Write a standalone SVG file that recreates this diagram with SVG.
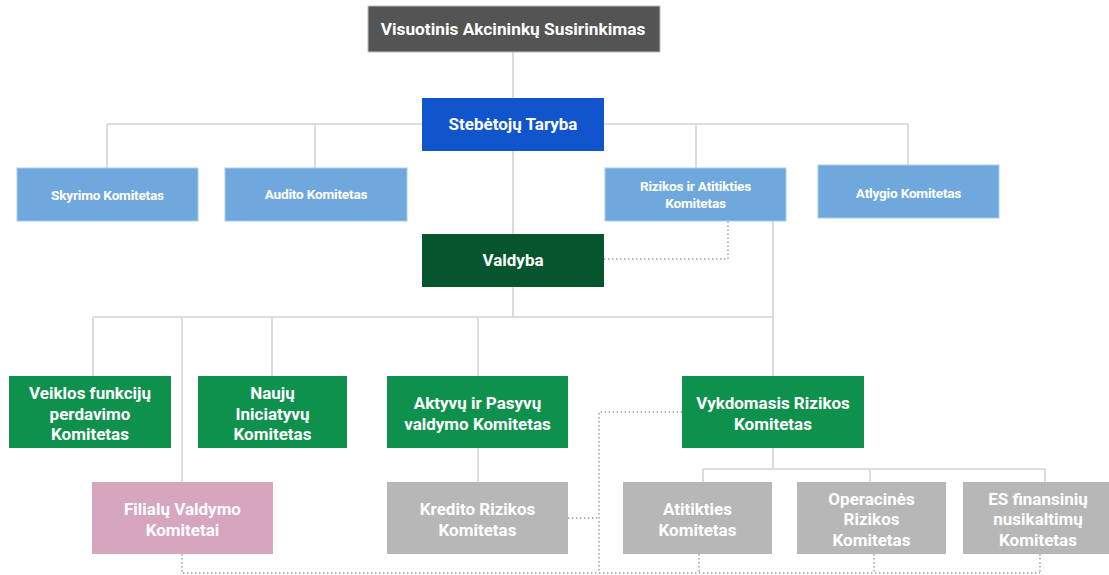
<svg xmlns="http://www.w3.org/2000/svg" width="1109" height="575" viewBox="0 0 1109 575">
<style>
text{font-family:Roboto,"Liberation Sans",sans-serif;font-weight:bold;fill:#ffffff;text-anchor:middle;dominant-baseline:central}
.l{fill:none;stroke:#d4d4d4;stroke-width:1.6}
.d{fill:none;stroke:#9a9a9a;stroke-width:1.4;stroke-dasharray:1.4 2.6}
.top{fill:#545454;stroke:#bdbdbd;stroke-width:1}
.sb{fill:#1155cc}
.lb{fill:#6fa8dc;stroke:#a9cbee;stroke-width:1}
.dg{fill:#07552e}
.g{fill:#0f914e}
.p{fill:#d5a6bd}
.gr{fill:#b7b7b7}
.f16{font-size:17.3px}
.f17{font-size:17px}
.f12{font-size:13.6px;letter-spacing:-0.2px}
.f15{font-size:17px}
</style>
<rect width="1109" height="575" fill="#ffffff"/>
<g id="connectors">
<path class="l" d="M513 52V98M513 151V234M107 124H908M107 124V168M315 124V168M696 124V168M908 124V165"/>
<path class="l" d="M773 221V376M513 287V317M93 317H773M93 317V376M182 317V482M272 317V376M478 317V376M478 448V482"/>
<path class="l" d="M773 448V469M703 469H1045M703 469V482M870 469V482M1045 469V482"/>
<path class="d" d="M604 259H728V221"/>
<path class="d" d="M682 412H599V573M568 518H599"/>
<path class="d" d="M182 554V573H1040M699 554V573M874 554V573M1040 554V573"/>
</g>
<g id="n-visuotinis"><rect class="top" x="368" y="6" width="292" height="46"/><text class="f16" x="513" y="29">Visuotinis Akcininkų Susirinkimas</text></g>
<g id="n-stebetoju"><rect class="sb" x="422" y="98" width="182" height="53"/><text class="f17" x="513" y="124">Stebėtojų Taryba</text></g>
<g id="n-skyrimo"><rect class="lb" x="17" y="168" width="181" height="53"/><text class="f12" x="107.5" y="195">Skyrimo Komitetas</text></g>
<g id="n-audito"><rect class="lb" x="225" y="168" width="182" height="53"/><text class="f12" x="316" y="194">Audito Komitetas</text></g>
<g id="n-rizikos"><rect class="lb" x="605" y="168" width="181" height="53"/><text class="f12" x="695.5" y="186">Rizikos ir Atitikties</text><text class="f12" x="695.5" y="203">Komitetas</text></g>
<g id="n-atlygio"><rect class="lb" x="818" y="165" width="181" height="53"/><text class="f12" x="908.5" y="193">Atlygio Komitetas</text></g>
<g id="n-valdyba"><rect class="dg" x="422" y="234" width="182" height="53"/><text class="f15" x="513" y="260">Valdyba</text></g>
<g id="n-veiklos"><rect class="g" x="9" y="376" width="162" height="72"/><text class="f15" x="90" y="393">Veiklos funkcijų</text><text class="f15" x="90" y="413.5">perdavimo</text><text class="f15" x="90" y="434">Komitetas</text></g>
<g id="n-nauju"><rect class="g" x="198" y="376" width="149" height="72"/><text class="f15" x="272.5" y="393">Naujų</text><text class="f15" x="272.5" y="413.5">Iniciatyvų</text><text class="f15" x="272.5" y="434">Komitetas</text></g>
<g id="n-aktyvu"><rect class="g" x="387" y="376" width="181" height="72"/><text class="f15" x="477.5" y="403">Aktyvų ir Pasyvų</text><text class="f15" x="477.5" y="423.5">valdymo Komitetas</text></g>
<g id="n-vykdomasis"><rect class="g" x="682" y="376" width="182" height="72"/><text class="f15" x="773" y="403">Vykdomasis Rizikos</text><text class="f15" x="773" y="423.5">Komitetas</text></g>
<g id="n-filialu"><rect class="p" x="92" y="482" width="181" height="72"/><text class="f15" x="182.5" y="509">Filialų Valdymo</text><text class="f15" x="182.5" y="529.5">Komitetai</text></g>
<g id="n-kredito"><rect class="gr" x="387" y="482" width="181" height="72"/><text class="f15" x="477.5" y="509">Kredito Rizikos</text><text class="f15" x="477.5" y="529.5">Komitetas</text></g>
<g id="n-atitikties"><rect class="gr" x="623" y="482" width="149" height="72"/><text class="f15" x="697.5" y="509">Atitikties</text><text class="f15" x="697.5" y="529.5">Komitetas</text></g>
<g id="n-operacines"><rect class="gr" x="797" y="482" width="149" height="72"/><text class="f15" x="871.5" y="498.5">Operacinės</text><text class="f15" x="871.5" y="519">Rizikos</text><text class="f15" x="871.5" y="539.5">Komitetas</text></g>
<g id="n-es"><rect class="gr" x="963" y="482" width="146" height="72"/><text class="f15" x="1038" y="498.5">ES finansinių</text><text class="f15" x="1038" y="519">nusikaltimų</text><text class="f15" x="1038" y="539.5">Komitetas</text></g>
</svg>
